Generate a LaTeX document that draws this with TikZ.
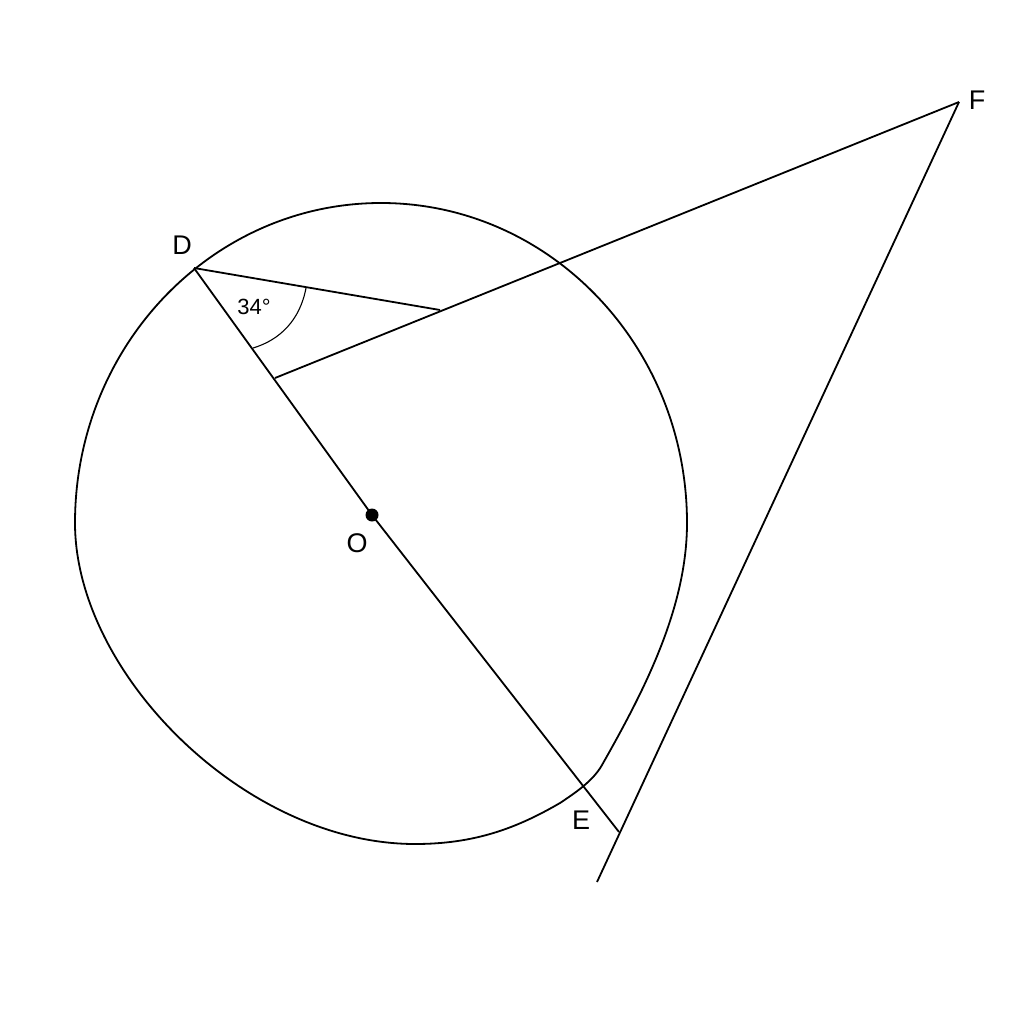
\documentclass[tikz,border=0pt]{standalone}
\usepackage{fontspec}
\setmainfont{Liberation Sans}
\begin{document}
\begin{tikzpicture}[x=1pt,y=-1pt,
  geo/.style={line width=1.8pt, line join=round},
  thinarc/.style={line width=1.1pt},
  lbl/.style={font=\fontsize{27}{30}\selectfont, inner sep=0pt},
  anglbl/.style={font=\fontsize{22}{24}\selectfont, inner sep=0pt}]
\useasboundingbox (0,0) rectangle (1024,1024);
% points
\coordinate (D) at (194,268);
\coordinate (O) at (372,515);
\coordinate (G) at (619,832);
\coordinate (F) at (959,102);
\coordinate (H) at (597,882);
\coordinate (K) at (275,378);
\coordinate (M) at (440,310);
% circle-like curve
\draw[geo] (75,523) arc[start angle=180, end angle=360, x radius=306, y radius=320]
  .. controls (687,608) and (644,691) .. (602,765)
  .. controls (593,781) and (575,793) .. (560,803)
  .. controls (517,828) and (475,844) .. (415,844)
  .. controls (245,844) and (75,673) .. (75,523) -- cycle;
% lines
\draw[geo] (D) -- (O) -- (G);
\draw[geo] (F) -- (H);
\draw[geo] (F) -- (K);
\draw[geo] (D) -- (M);
% angle arc
\draw[thinarc] (306,288) .. controls (300,320) and (280,340) .. (253,348);
% dot
\fill (O) circle (6.5);
% labels
\node[lbl] (lD) at (182,245) {D};
\node[lbl] (lF) at (977,100) {F};
\node[lbl] (lO) at (357,543) {O};
\node[lbl] (lE) at (581,820) {E};
\node[anglbl] (lA) at (254,307) {34°};
\end{tikzpicture}
\end{document}
